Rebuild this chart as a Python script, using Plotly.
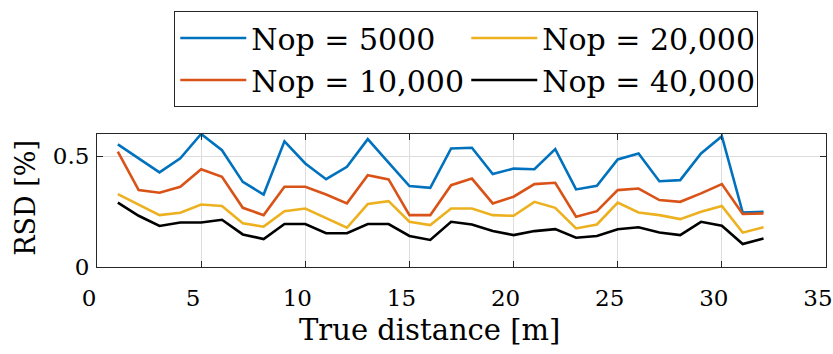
import plotly.graph_objects as go

distance = list(range(1, 33))
rsd_5000 = [0.553, 0.49, 0.427, 0.49, 0.60, 0.527, 0.384, 0.327, 0.567, 0.467, 0.396,
            0.452, 0.577, 0.471, 0.365, 0.357, 0.535, 0.538, 0.419, 0.444, 0.441, 0.532,
            0.35, 0.366, 0.485, 0.512, 0.387, 0.392, 0.512, 0.59, 0.246, 0.249]
rsd_10000 = [0.52, 0.347, 0.335, 0.362, 0.441, 0.407, 0.267, 0.234, 0.362, 0.362, 0.327,
             0.287, 0.414, 0.395, 0.234, 0.234, 0.369, 0.399, 0.287, 0.317, 0.374, 0.38,
             0.227, 0.252, 0.347, 0.354, 0.302, 0.294, 0.332, 0.374, 0.239, 0.242]
rsd_20000 = [0.329, 0.282, 0.234, 0.245, 0.282, 0.275, 0.197, 0.182, 0.252, 0.264, 0.219,
             0.177, 0.284, 0.297, 0.204, 0.189, 0.264, 0.264, 0.234, 0.231, 0.294, 0.267,
             0.174, 0.192, 0.291, 0.246, 0.234, 0.216, 0.249, 0.275, 0.155, 0.179]
rsd_40000 = [0.29, 0.231, 0.185, 0.201, 0.201, 0.213, 0.147, 0.126, 0.194, 0.194, 0.152,
             0.152, 0.194, 0.194, 0.14, 0.122, 0.204, 0.192, 0.162, 0.144, 0.162, 0.171,
             0.132, 0.14, 0.17, 0.179, 0.156, 0.144, 0.204, 0.186, 0.104, 0.129]

series_names = ["Nop = 5000", "Nop = 10,000", "Nop = 20,000", "Nop = 40,000"]
series_values = [rsd_5000, rsd_10000, rsd_20000, rsd_40000]
colors = ["#0072BD", "#D95319", "#EDB120", "#000000"]
ranks = [1, 3, 2, 4]

x_ticks = [0, 5, 10, 15, 20, 25, 30, 35]
x_tick_labels = ["0", "5", "10", "15", "20", "25", "30", "35"]
y_ticks = [0, 0.5]
y_tick_labels = ["0", "0.5"]
x_title = "True distance [m]"
y_title = "RSD [%]"

FONT = "DejaVu Serif"

fig = go.Figure()
for name, vals, col, rk in zip(series_names, series_values, colors, ranks):
    fig.add_trace(go.Scatter(x=distance, y=vals, mode="lines", name=name,
                             line=dict(color=col, width=2.6), legendrank=rk))

axis_common = dict(showline=True, linecolor="#262626", linewidth=1, mirror="ticks",
                   ticks="inside", ticklen=6, tickcolor="#262626", automargin=False,
                   showgrid=True, gridcolor="#DDDDDD", gridwidth=1, zeroline=False,
                   ticklabeloverflow="allow",
                   tickfont=dict(family=FONT, size=23, color="#000"))

fig.update_layout(
    width=833, height=354,
    margin=dict(l=97, r=7, t=134, b=87, autoexpand=False),
    paper_bgcolor="white", plot_bgcolor="white",
    font=dict(family=FONT, color="#000", size=24),
    xaxis=dict(range=[0, 35], tickvals=x_ticks, ticktext=x_tick_labels,
               ticklabelshift=-8, ticklabelstandoff=10, **axis_common),
    yaxis=dict(range=[0, 0.6], tickvals=y_ticks, ticktext=y_tick_labels,
               ticklabelstandoff=2, **axis_common),
    legend=dict(orientation="h", x=0.106, xanchor="left", y=1.925, yanchor="top",
                bordercolor="#262626", borderwidth=1, bgcolor="white",
                font=dict(family=FONT, size=30, color="#000"),
                entrywidth=210, entrywidthmode="pixels", itemwidth=66,
                traceorder="normal"),
    showlegend=True,
    annotations=[
        dict(text=x_title, xref="paper", yref="paper", x=0.456, y=-0.474,
             xanchor="center", yanchor="middle", showarrow=False,
             font=dict(family=FONT, size=29, color="#000")),
        dict(text=y_title, xref="paper", yref="paper", x=-0.0974, y=0.52,
             xanchor="center", yanchor="middle", showarrow=False, textangle=-90,
             font=dict(family=FONT, size=27, color="#000")),
    ],
)

fig.write_html("out.html", config={"displayModeBar": False},
               post_script="document.body.style.margin='0px';")
